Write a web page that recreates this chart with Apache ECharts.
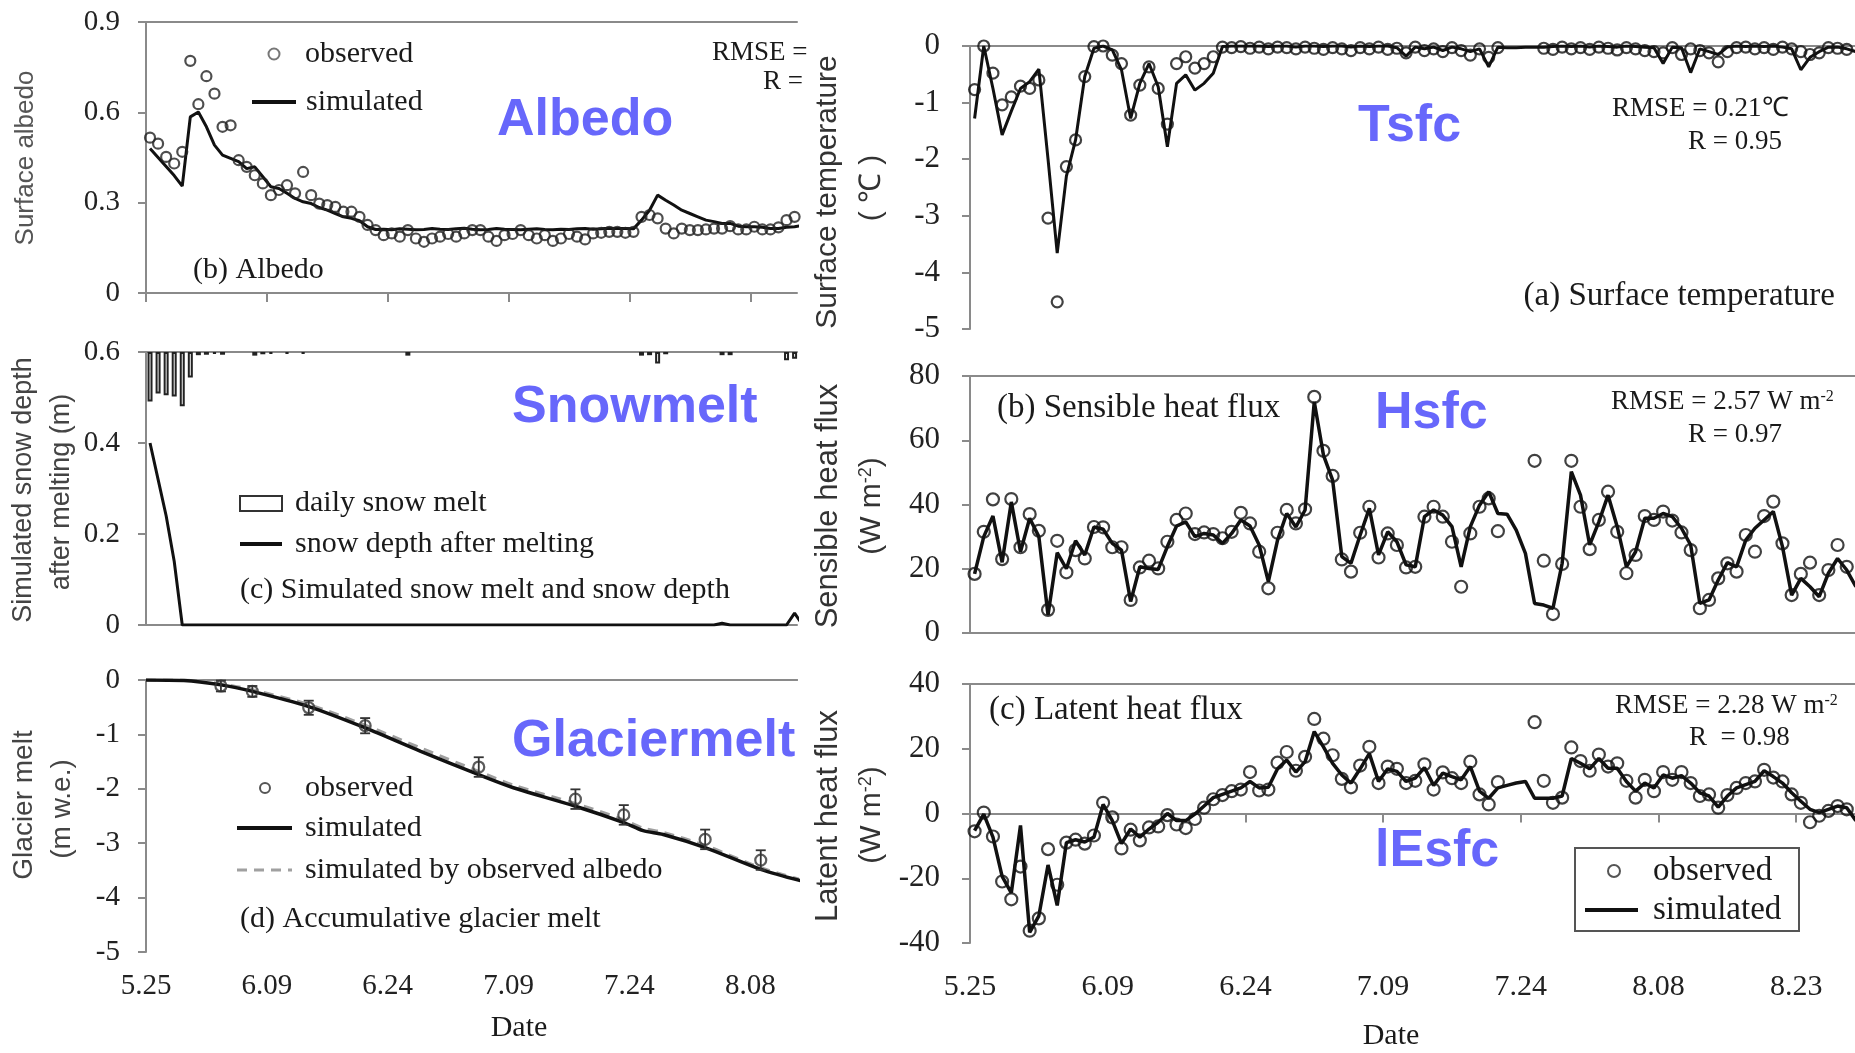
<!DOCTYPE html>
<html>
<head>
<meta charset="utf-8">
<script src="https://cdn.jsdelivr.net/npm/echarts@6/dist/echarts.min.js"></script>
<style>
html, body { margin: 0; padding: 0; background: #fff; }
#chart { width: 1855px; height: 1053px; }
</style>
</head>
<body>
<div id="chart"></div>
<script>
// x axis: days counted from 5.25, one label every 15 days
var dateTicks = ['5.25', '6.09', '6.24', '7.09', '7.24', '8.08', '8.23'];

// (b) albedo, daily from 5.25
var albedoObs = [
  0.516, 0.496, 0.452, 0.43, 0.469, 0.771, 0.627, 0.72, 0.662, 0.552,
  0.557, 0.441, 0.419, 0.391, 0.364, 0.325, 0.342, 0.358, 0.331, 0.402,
  0.325, 0.297, 0.292, 0.286, 0.27, 0.27, 0.253, 0.226,
  0.209, 0.192, 0.198, 0.187, 0.209, 0.181, 0.17, 0.181, 0.187, 0.196, 0.187,
  0.198, 0.209, 0.209, 0.187, 0.173, 0.192, 0.196, 0.209, 0.192, 0.181, 0.192,
  0.173, 0.181, 0.196, 0.187, 0.178, 0.198, 0.2, 0.203, 0.203, 0.2, 0.203,
  0.253, 0.259, 0.248, 0.214, 0.198, 0.214, 0.209, 0.209, 0.211, 0.214, 0.214,
  0.222, 0.211, 0.211, 0.22, 0.211, 0.211, 0.218, 0.242, 0.253, 0.275
];
var albedoSim = [
  0.48, 0.45, 0.42, 0.39, 0.355, 0.585, 0.601, 0.552, 0.491, 0.458,
  0.447, 0.436, 0.413, 0.419, 0.386, 0.353, 0.347, 0.331, 0.314, 0.303,
  0.297, 0.284, 0.275, 0.264, 0.253, 0.248, 0.24, 0.22, 0.211,
  0.212, 0.21, 0.213, 0.212, 0.21, 0.211, 0.214, 0.212, 0.211, 0.213, 0.215,
  0.212, 0.21, 0.211, 0.214, 0.212, 0.211, 0.21, 0.212, 0.213, 0.211, 0.21,
  0.212, 0.211, 0.213, 0.214, 0.212, 0.213, 0.215, 0.214, 0.214, 0.213,
  0.242, 0.275, 0.325, 0.308, 0.292, 0.275, 0.264, 0.253, 0.242, 0.237, 0.231,
  0.231, 0.222, 0.22, 0.22, 0.218, 0.214, 0.214, 0.218, 0.22, 0.225
];

// (c) daily snow melt (m) and snow depth after melting (m)
var snowMeltDays = [0, 1, 2, 3, 4, 5, 6, 7, 8, 9, 13, 14, 15, 17, 19, 32, 61, 62, 63, 64, 71, 72, 79, 80];
var snowMelt = [0.109, 0.091, 0.095, 0.098, 0.119, 0.056, 0.007, 0.006, 0.004, 0.006, 0.008, 0.005,
  0.004, 0.004, 0.004, 0.008, 0.008, 0.007, 0.025, 0.005, 0.007, 0.007, 0.018, 0.015];
var snowDepthDays = [0, 1, 2, 3, 4, 70, 71, 72, 79, 80, 81];
var snowDepth = [0.40, 0.32, 0.24, 0.14, 0, 0, 0.004, 0, 0, 0.026, 0];

// (d) accumulative glacier melt (m w.e.)
var glacierSimDays = [0, 4.7, 9.3, 13.2, 20.2, 27.2, 34.1, 41.3, 45.6, 53.3, 59.3, 61.7, 64.2, 69.4, 76.3, 81.3];
var glacierSim = [0, -0.01, -0.09, -0.21, -0.49, -0.88, -1.31, -1.74, -1.98, -2.32, -2.62, -2.77, -2.84, -3.08, -3.48, -3.69];
var glacierAlb = [0, 0, -0.07, -0.18, -0.45, -0.83, -1.25, -1.68, -1.93, -2.27, -2.57, -2.72, -2.8, -3.04, -3.45, -3.67];
var glacierObsDays = [9.3, 13.2, 20.2, 27.2, 41.3, 53.3, 59.3, 69.4, 76.3];
var glacierObs = [-0.11, -0.21, -0.51, -0.84, -1.6, -2.19, -2.48, -2.93, -3.31];
var glacierErr = [0.1, 0.1, 0.13, 0.14, 0.18, 0.18, 0.18, 0.18, 0.18];

// (a) surface temperature, daily from 5.25
var tsfcObs = [
  -0.77, 0, -0.48, -1.04, -0.9, -0.71, -0.75, -0.6, -3.04, -4.52,
  -2.13, -1.66, -0.54, -0.01, 0, -0.16, -0.31, -1.22, -0.69, -0.37,
  -0.75, -1.38, -0.31, -0.19, -0.39, -0.31, -0.19, -0.02, -0.03, -0.01,
  -0.04, -0.02, -0.05, -0.02, -0.03, -0.05, -0.02, -0.04, -0.06, -0.03,
  -0.05, -0.08, -0.03, -0.05, -0.02, -0.06, -0.04, -0.12, -0.02, -0.08,
  -0.05, -0.1, -0.03, -0.08, -0.16, -0.05, -0.2, -0.03, null, null,
  null, null, -0.04, -0.06, -0.02, -0.05, -0.03, -0.06, -0.02, -0.04,
  -0.07, -0.03, -0.05, -0.08, -0.1, -0.12, -0.03, -0.15, -0.05, -0.08,
  -0.12, -0.28, -0.1, -0.03, -0.02, -0.05, -0.03, -0.06, -0.02, -0.05,
  -0.1, -0.15, -0.12, -0.03, -0.04, -0.06, -0.12
];
var tsfcSim = [
  -1.28, 0, -0.75, -1.57, -1.15, -0.75, -0.63, -0.41, -2.0, -3.66,
  -2.3, -1.66, -0.54, -0.04, 0, -0.07, -0.42, -1.28, -0.66, -0.31,
  -0.72, -1.78, -0.66, -0.51, -0.78, -0.66, -0.48, -0.01, 0, 0,
  0, 0, -0.01, 0, 0, -0.02, 0, 0, -0.01, 0,
  0, -0.02, 0, -0.01, 0, 0, -0.03, -0.18, -0.02, -0.05,
  -0.02, -0.08, -0.02, -0.05, -0.1, -0.05, -0.37, -0.02, -0.03, -0.03,
  -0.02, -0.02, -0.02, -0.01, 0, -0.01, 0, -0.02, 0, -0.01,
  -0.02, 0, -0.01, -0.02, -0.03, -0.31, -0.02, -0.03, -0.47, -0.05,
  -0.1, -0.15, -0.02, 0, -0.01, 0, -0.01, 0, -0.02, -0.05,
  -0.42, -0.2, -0.1, -0.02, -0.02, -0.05, -0.1
];

// (b) sensible heat flux (W m-2)
var hsfcObs = [
  18.4, 31.5, 41.6, 23, 41.7, 26.7, 37, 31.8, 7.2, 28.7,
  18.9, 25.8, 23.2, 33, 32.9, 26.7, 26.7, 10.3, 20.4, 22.5,
  20.1, 28.4, 35.2, 37.2, 30.8, 31.3, 30.8, 29.5, 31.5, 37.4,
  34.1, 25.3, 13.9, 31.2, 38.3, 34.1, 38.5, 73.5, 56.7, 48.9,
  22.9, 19.1, 31.2, 39.3, 23.5, 31, 27.4, 20.4, 20.6, 36.2,
  39.3, 36.2, 28.4, 14.4, 31, 39.3, 41.9, 31.7, null, null,
  null, 53.6, 22.5, 5.9, 21.5, 53.6, 39.3, 26.1, 35.2, 44,
  31.5, 18.6, 24.3, 36.4, 35.2, 37.8, 35, 31.3, 25.8, 7.7,
  10.3, 17, 21.7, 19.1, 30.5, 25.3, 36.4, 40.9, 27.9, 11.8,
  18.4, 21.9, 11.8, 19.6, 27.4, 20.6, 12.9
];
var hsfcSim = [
  18.4, 30, 36.4, 22, 40.8, 25.3, 35.7, 30, 5.6, 25,
  20, 28.7, 24.3, 33, 32.3, 27.9, 25.8, 9.8, 20.6, 20.1,
  19.8, 26.9, 33.3, 34.6, 30, 31, 30.5, 27.9, 31, 35.2,
  33.3, 27.4, 16, 28.9, 37.2, 33, 38.3, 72, 55.4, 47.6,
  23.8, 21.7, 30.5, 38.8, 24.3, 31.5, 28.4, 21.2, 20.6, 36.2,
  38.3, 36.7, 33.1, 20.6, 33.1, 39.8, 44, 37.2, 37, 32,
  24.8, 9.2, 8.7, 7.7, 21.7, 50.2, 42.9, 27.4, 34.6, 42.9,
  33.1, 20.6, 25.3, 35.7, 35.7, 37.2, 36.2, 32.6, 27.4, 9.2,
  10.3, 16.5, 21.9, 20.6, 28.9, 32.6, 35.2, 37.8, 26.9, 11.8,
  17, 14.4, 11.3, 18.6, 23.2, 19.6, 14.4
];

// (c) latent heat flux (W m-2)
var leObs = [
  -5.5, 0.3, -7.1, -21, -26.5, -16.4, -36.2, -32.4, -11, -22,
  -9, -8.1, -9.3, -6.8, 3.3, -1.2, -10.8, -5, -8.3, -4.3,
  -4, -0.5, -3.4, -4.5, -1.7, 1.8, 4.4, 5.7, 6.9, 7.4,
  12.8, 7.1, 7.4, 15.7, 19, 13.2, 17.5, 29.2, 23.1, 18,
  10.7, 8.1, 14.8, 20.6, 9.4, 14.5, 13.8, 9.4, 10.1, 15.2,
  7.4, 12.7, 10.9, 9.4, 16, 5.9, 2.8, 9.7, null, null,
  null, 28.2, 10.1, 3.3, 4.9, 20.4, 16.2, 13.2, 18.2, 14.5,
  15.5, 10.1, 4.9, 10.4, 6.9, 12.8, 10.4, 12.8, 9.4, 5.4,
  5.9, 1.8, 5.7, 7.9, 9.4, 9.9, 13.5, 11.1, 9.9, 5.9,
  3.3, -2.7, -0.7, 0.8, 2.3, 1.3, -3.7
];
var leSim = [
  -5.3, -0.2, -7.3, -19.4, -24.5, -3.7, -36.7, -31.6, -15.9, -28.4,
  -9, -8.1, -8.8, -7.3, 2.8, -2.2, -9.3, -4.8, -7.3, -4.8,
  -2.7, 0, -2.2, -2.2, -0.2, 2.3, 4.9, 5.9, 6.9, 7.9,
  9.9, 7.9, 8.1, 13.8, 16.5, 12.8, 16, 25.3, 20.6, 15.5,
  11.9, 9.4, 13.8, 18.5, 9.9, 13.8, 13, 9.9, 10.9, 14.2,
  8.7, 12.5, 11.4, 10.4, 14.5, 6.9, 4.7, 7.9, 8.7, 9.4,
  9.9, 4.7, 4.7, 4.7, 5.4, 17, 15.5, 13.8, 17, 14,
  14, 9.9, 6.9, 9.4, 7.9, 11.9, 10.9, 11.7, 9.4, 6.4,
  5.4, 2, 5.4, 7.9, 8.9, 9.9, 13.2, 11.4, 9.4, 6.4,
  3.8, 1.3, 0.3, 1.3, 2.3, 1.8, -2.2
];

var chart = echarts.init(document.getElementById('chart'));

var SERIF = '"Liberation Serif", "Times New Roman", serif';
var SANS = '"Liberation Sans", Arial, sans-serif';
var AX = '#8a8a8a';

// daily values are plotted at mid-day
function daily(arr) {
  var out = [];
  arr.forEach(function (v, i) { if (v !== null) out.push([i + 0.5, v]); });
  return out;
}
function pairs(days, vals) {
  return days.map(function (d, i) { return [d, vals[i]]; });
}

var leftTicks = [0, 15, 30, 45, 60, 75];
var rightTicks = [0, 15, 30, 45, 60, 75, 90];

var grids = [
  { left: 146, top: 22, width: 651, height: 271 },
  { left: 146, top: 352, width: 651, height: 273 },
  { left: 146, top: 680, width: 651, height: 272 },
  { left: 970, top: 46, width: 885, height: 283 },
  { left: 970, top: 376, width: 885, height: 257 },
  { left: 970, top: 684, width: 885, height: 259 }
];

function xAxes(g, max, ticks, showTick, showLabel, margin, fs) {
  return [{
    type: 'value', gridIndex: g, min: 0, max: max, position: 'bottom',
    axisLine: { show: true, lineStyle: { color: AX, width: 2 } },
    axisTick: { show: showTick, customValues: ticks, length: 9, lineStyle: { color: AX, width: 2 } },
    axisLabel: {
      show: showLabel, customValues: ticks, margin: margin,
      fontFamily: SERIF, fontSize: fs, color: '#222',
      formatter: function (v) { return dateTicks[Math.round(v / 15)]; }
    },
    splitLine: { show: false }
  }, {
    type: 'value', gridIndex: g, min: 0, max: max, position: 'top',
    axisLine: { show: true, lineStyle: { color: AX, width: 2 } },
    axisTick: { show: false }, axisLabel: { show: false }, splitLine: { show: false }
  }];
}

function yAxis(g, min, max, interval, fs, margin) {
  return {
    type: 'value', gridIndex: g, min: min, max: max, interval: interval,
    axisLine: { show: true, lineStyle: { color: AX, width: 2 } },
    axisTick: { show: true, inside: false, length: 8, lineStyle: { color: AX, width: 2 } },
    axisLabel: { fontFamily: SERIF, fontSize: fs, color: '#222', margin: margin },
    splitLine: { show: false }
  };
}

var xAxisList = [].concat(
  xAxes(0, 80.8, leftTicks, true, false, 0, 29),
  xAxes(1, 80.8, leftTicks, false, false, 0, 29),
  xAxes(2, 80.8, leftTicks, false, true, 20, 29),
  xAxes(3, 96.4, rightTicks, false, false, 0, 30),
  xAxes(4, 96.4, rightTicks, false, false, 0, 30),
  xAxes(5, 96.4, rightTicks, true, true, 29, 30)
);

var yAxisList = [
  yAxis(0, 0, 0.9, 0.3, 29, 26),
  yAxis(1, 0, 0.6, 0.2, 29, 26),
  yAxis(2, -5, 0, 1, 29, 26),
  yAxis(3, -5, 0, 1, 31, 30),
  yAxis(4, 0, 80, 20, 31, 30),
  yAxis(5, -40, 40, 20, 31, 30),
  // hidden, inverted axis for the daily snow melt bars hanging from the top
  { type: 'value', gridIndex: 1, min: 0, max: 0.6, inverse: true, show: false }
];

function simLine(xi, yi, data, w) {
  return {
    type: 'line', xAxisIndex: xi, yAxisIndex: yi, data: data, showSymbol: false,
    lineStyle: { color: '#111', width: w || 3 }, z: 2, clip: true, animation: false
  };
}
function obsDots(xi, yi, data, size, color) {
  return {
    type: 'scatter', xAxisIndex: xi, yAxisIndex: yi, data: data, symbol: 'circle',
    symbolSize: size || 11,
    itemStyle: { color: 'rgba(0,0,0,0)', borderColor: color || '#111', borderWidth: 2.2 },
    z: 3, clip: true, animation: false
  };
}

var series = [
  simLine(0, 0, daily(albedoSim), 3),
  obsDots(0, 0, daily(albedoObs), 10, '#222'),
  {
    type: 'bar', xAxisIndex: 2, yAxisIndex: 6, barWidth: 5,
    data: snowMeltDays.map(function (d, i) { return [d + 0.5, snowMelt[i]]; }),
    itemStyle: { color: '#f4f4f4', borderColor: '#222', borderWidth: 2 }, animation: false
  },
  simLine(2, 1, snowDepthDays.map(function (d, i) { return [d + 0.5, snowDepth[i]]; }), 3),
  {
    type: 'line', xAxisIndex: 4, yAxisIndex: 2, data: pairs(glacierSimDays, glacierAlb), showSymbol: false,
    smooth: 0.3, lineStyle: { color: '#a0a0a0', width: 3, type: [10, 7] }, z: 1, animation: false
  },
  {
    type: 'line', xAxisIndex: 4, yAxisIndex: 2, data: pairs(glacierSimDays, glacierSim), showSymbol: false,
    smooth: 0.3, lineStyle: { color: '#111', width: 3.5 }, z: 2, animation: false
  },
  {
    type: 'custom', xAxisIndex: 4, yAxisIndex: 2, z: 3, animation: false,
    data: glacierObsDays.map(function (d, i) { return [d, glacierObs[i], glacierErr[i]]; }),
    renderItem: function (params, api) {
      var x = api.value(0), y = api.value(1), e = api.value(2);
      var p1 = api.coord([x, y + e]), p2 = api.coord([x, y - e]);
      var s = { stroke: '#333', lineWidth: 1.8 };
      return {
        type: 'group', children: [
          { type: 'line', shape: { x1: p1[0], y1: p1[1], x2: p2[0], y2: p2[1] }, style: s },
          { type: 'line', shape: { x1: p1[0] - 5, y1: p1[1], x2: p1[0] + 5, y2: p1[1] }, style: s },
          { type: 'line', shape: { x1: p2[0] - 5, y1: p2[1], x2: p2[0] + 5, y2: p2[1] }, style: s }
        ]
      };
    }
  },
  obsDots(4, 2, pairs(glacierObsDays, glacierObs), 11, '#333'),
  simLine(6, 3, daily(tsfcSim), 3),
  obsDots(6, 3, daily(tsfcObs), 11),
  simLine(8, 4, daily(hsfcSim), 3.5),
  obsDots(8, 4, daily(hsfcObs), 12),
  simLine(10, 5, daily(leSim), 3.5),
  obsDots(10, 5, daily(leObs), 12)
];

// text helpers for the overlay
function txt(x, y, text, font, extra) {
  var style = { text: text, font: font, fill: '#1a1a1a', textAlign: 'left', align: 'left',
    textVerticalAlign: 'middle', verticalAlign: 'middle' };
  for (var k in extra || {}) style[k] = extra[k];
  return { type: 'text', x: x, y: y, style: style, z: 10 };
}
function vtxt(x, y, text, font, color, rich) {
  var el = txt(x, y, text, font, { fill: color, textAlign: 'center', align: 'center' });
  el.rotation = Math.PI / 2;
  if (rich) el.style.rich = rich;
  return el;
}
function blue(x, y, text) {
  return txt(x, y, text, 'bold 52px ' + SANS, { fill: '#6767fb' });
}
function seg(x1, y1, x2, y2, color, w, dash) {
  return { type: 'line', shape: { x1: x1, y1: y1, x2: x2, y2: y2 }, z: 10,
    style: { stroke: color, lineWidth: w, lineDash: dash || null } };
}
function ring(cx, cy, r, color) {
  return { type: 'circle', shape: { cx: cx, cy: cy, r: r }, z: 10,
    style: { fill: 'none', stroke: color, lineWidth: 2 } };
}

var supSans = { sup: { fontSize: 18, fontFamily: 'Liberation Sans', verticalAlign: 'top', fill: '#333' } };
var supSerif = { sup: { fontSize: 16, fontFamily: 'Liberation Serif', verticalAlign: 'top', fill: '#1a1a1a' } };
var F30 = '30px ' + SERIF, F33 = '33px ' + SERIF, F27 = '27px ' + SERIF;

var graphics = [
  // y axis titles
  vtxt(26, 158, 'Surface albedo', '26px ' + SANS, '#555'),
  vtxt(24, 490, 'Simulated snow depth', '27px ' + SANS, '#444'),
  vtxt(62, 492, 'after melting (m)', '27px ' + SANS, '#444'),
  vtxt(24, 805, 'Glacier melt', '28px ' + SANS, '#444'),
  vtxt(62, 809, '(m w.e.)', '28px ' + SANS, '#444'),
  vtxt(828, 192, 'Surface temperature', '30px ' + SANS, '#333'),
  vtxt(872, 188, '( ℃ )', '30px ' + SANS, '#333'),
  vtxt(828, 506, 'Sensible heat flux', '31px ' + SANS, '#333'),
  vtxt(872, 506, '(W m{sup|-2})', '30px ' + SANS, '#333', supSans),
  vtxt(828, 816, 'Latent heat flux', '31px ' + SANS, '#333'),
  vtxt(872, 815, '(W m{sup|-2})', '30px ' + SANS, '#333', supSans),
  // x axis titles
  txt(519, 1028, 'Date', F30, { textAlign: 'center', align: 'center' }),
  txt(1391, 1036, 'Date', F30, { textAlign: 'center', align: 'center' }),

  // albedo panel
  ring(274, 54, 5.5, '#777'),
  txt(305, 54, 'observed', F30),
  seg(252, 102, 296, 102, '#111', 4),
  txt(306, 102, 'simulated', F30),
  txt(193, 270, '(b) Albedo', F30),
  txt(712, 53, 'RMSE =', F27),
  txt(763, 82, 'R =', F27),

  // snow panel
  { type: 'rect', shape: { x: 240, y: 496, width: 42, height: 15 }, z: 10,
    style: { fill: '#fff', stroke: '#333', lineWidth: 2 } },
  txt(295, 503, 'daily snow melt', F30),
  seg(240, 544, 282, 544, '#111', 4),
  txt(295, 544, 'snow depth after melting', F30),
  txt(240, 590, '(c) Simulated snow melt and snow depth', F30),

  // glacier panel
  ring(265, 788, 5, '#555'),
  txt(305, 788, 'observed', F30),
  seg(237, 828, 292, 828, '#111', 4),
  txt(305, 828, 'simulated', F30),
  seg(237, 870, 292, 870, '#a0a0a0', 3, [10, 7]),
  txt(305, 870, 'simulated by observed albedo', F30),
  txt(240, 919, '(d) Accumulative glacier melt', F30),

  // surface temperature panel
  txt(1612, 109, 'RMSE = 0.21℃', F27),
  txt(1688, 142, 'R = 0.95', F27),
  txt(1835, 296, '(a) Surface temperature', F33, { textAlign: 'right', align: 'right' }),

  // sensible heat panel
  txt(997, 408, '(b) Sensible heat flux', F33),
  txt(1611, 402, 'RMSE = 2.57 W m{sup|-2}', F27, { rich: supSerif }),
  txt(1688, 435, 'R = 0.97', F27),

  // latent heat panel
  txt(989, 710, '(c) Latent heat flux', F33),
  txt(1615, 706, 'RMSE = 2.28 W m{sup|-2}', F27, { rich: supSerif }),
  txt(1689, 738, 'R  = 0.98', F27),
  { type: 'rect', shape: { x: 1575, y: 848, width: 224, height: 83 }, z: 10,
    style: { fill: '#fff', stroke: '#555', lineWidth: 2 } },
  ring(1614, 871, 6, '#555'),
  txt(1653, 871, 'observed', F33),
  seg(1585, 910, 1638, 910, '#111', 4),
  txt(1653, 910, 'simulated', F33),

  // blue panel tags
  blue(497, 121, 'Albedo'),
  blue(512, 408, 'Snowmelt'),
  blue(512, 742, 'Glaciermelt'),
  blue(1358, 127, 'Tsfc'),
  blue(1375, 414, 'Hsfc'),
  blue(1375, 852, 'lEsfc')
];

chart.setOption({
  backgroundColor: '#fff',
  animation: false,
  grid: grids,
  xAxis: xAxisList,
  yAxis: yAxisList,
  series: series,
  graphic: { elements: graphics }
});
</script>
</body>
</html>
